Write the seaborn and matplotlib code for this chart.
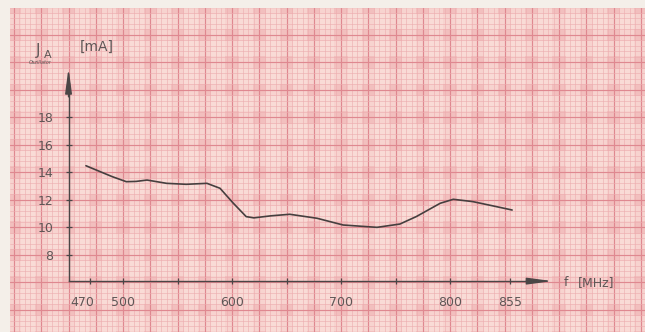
import numpy as np
import pandas as pd
import matplotlib
matplotlib.use("Agg")
import matplotlib.pyplot as plt
import seaborn as sns

# ---- data ----
freq_mhz = [466, 479, 490, 503, 512, 522, 540, 558, 577, 589, 601, 613, 620,
            636, 653, 678, 702, 733, 754, 769, 791, 803, 821, 840, 857]
current_ma = [14.49, 14.06, 13.70, 13.33, 13.35, 13.45, 13.21, 13.14, 13.21, 12.85,
              11.78, 10.79, 10.70, 10.85, 10.96, 10.67, 10.18, 10.01, 10.25, 10.79,
              11.76, 12.05, 11.88, 11.56, 11.27]
y_ticks = [8, 10, 12, 14, 16, 18]
x_ticks = [470, 500, 600, 700, 800, 855]
x_ticks_minor = [550, 650, 750]

df = pd.DataFrame({"f": freq_mhz, "I": current_ma})

sns.set_style("ticks")
plt.rcParams["font.family"] = ["DejaVu Sans"]

W, H = 645, 332
fig = plt.figure(figsize=(W / 100, H / 100), dpi=100, facecolor="#f4efe9")
ax = fig.add_axes([10 / W, 0, 635 / W, 324 / H])
ax.set_facecolor("#f2bfbe")

xlim = (396.3, 978.9)
ylim = (2.4, 25.96)
ax.set_xlim(*xlim)
ax.set_ylim(*ylim)

# ---- graph paper ----
light = "#fbe2dc"
for x0 in np.arange(375, 1000, 25.0):
    ax.axvspan(x0 + 6, x0 + 19, color=light, alpha=0.6, lw=0, zorder=0)
for y0 in np.arange(0, 28, 2.0):
    ax.axhspan(y0 + 0.45, y0 + 1.55, color=light, alpha=0.6, lw=0, zorder=0)
for x in np.arange(375, 1000, 5.0):
    k = int(round((x - 400) / 5))
    if k % 5 == 0:
        c, lw = "#df8890", 0.85
    else:
        c, lw = "#edadaf", 0.42
    ax.axvline(x, color=c, lw=lw, zorder=0.5)
for y in np.arange(0, 28, 0.4):
    k = int(round(y / 0.4))
    if k % 5 == 0:
        c, lw = "#df8890", 0.85
    else:
        c, lw = "#edadaf", 0.42
    ax.axhline(y, color=c, lw=lw, zorder=0.5)

# ---- curve ----
sns.lineplot(data=df, x="f", y="I", ax=ax, color="#463f3f", lw=1.2, zorder=5)

# ---- axes ----
axcol = "#4a4646"
x0_axis, y0_axis = 450, 6.1
for s in ["top", "right"]:
    ax.spines[s].set_visible(False)
ax.spines["left"].set_position(("data", x0_axis))
ax.spines["bottom"].set_position(("data", y0_axis))
ax.spines["left"].set_bounds(y0_axis, 20.5)
ax.spines["bottom"].set_bounds(x0_axis, 880)
for s in ["left", "bottom"]:
    ax.spines[s].set_color(axcol)
    ax.spines[s].set_linewidth(1.0)
    ax.spines[s].set_zorder(6)
ax.annotate("", xy=(x0_axis, 21.6), xytext=(x0_axis, 19.5),
            arrowprops=dict(arrowstyle="-|>,head_length=1.5,head_width=0.2",
                            color=axcol, lw=1.0, shrinkA=0, shrinkB=0), zorder=7)
ax.annotate("", xy=(894, y0_axis), xytext=(870, y0_axis),
            arrowprops=dict(arrowstyle="-|>,head_length=1.5,head_width=0.2",
                            color=axcol, lw=1.0, shrinkA=0, shrinkB=0), zorder=7)

labcol = "#5e5656"
ax.set_yticks(y_ticks)
ax.set_yticklabels([str(v) for v in y_ticks])
ax.set_xticks(x_ticks)
ax.set_xticklabels(["" if v == 470 else str(v) for v in x_ticks])
ax.set_xticks(x_ticks_minor, minor=True)
ax.tick_params(axis="both", which="both", direction="inout", length=4, width=0.9,
               color=axcol, labelcolor=labcol, labelsize=9)
ax.tick_params(axis="y", pad=9)
ax.tick_params(axis="x", pad=9)
ax.annotate("470", xy=(470, y0_axis), xytext=(-6, -10.5), textcoords="offset points",
            ha="center", va="top", fontsize=9, color=labcol)
ax.set_xlabel("")
ax.set_ylabel("")

# ---- axis titles ----
def px(x, y):
    return x / W, 1 - y / H

fig.text(*px(36, 50), "J", fontsize=11, color=labcol, ha="left", va="center")
fig.text(*px(44, 55), "A", fontsize=8, color=labcol, ha="left", va="center")
fig.text(*px(80, 47), "[mA]", fontsize=10, color=labcol, ha="left", va="center")
fig.text(*px(29, 63), "Oszillator", fontsize=3.5, color=labcol, ha="left",
         va="center", style="italic")
fig.text(*px(564, 283), "f", fontsize=9, color=labcol, ha="left", va="center")
fig.text(*px(578, 283), "[MHz]", fontsize=9, color=labcol, ha="left", va="center")

fig.savefig("out.png", dpi=100, facecolor=fig.get_facecolor())
